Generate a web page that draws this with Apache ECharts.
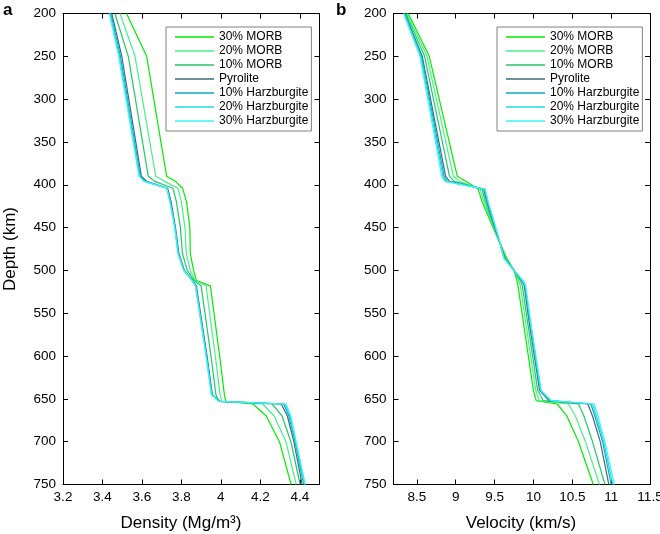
<!DOCTYPE html>
<html>
<head>
<meta charset="utf-8">
<script src="https://cdn.jsdelivr.net/npm/echarts@6/dist/echarts.min.js"></script>
<style>
  html, body { margin: 0; padding: 0; background: #fff; }
  #main { width: 660px; height: 534px; }
</style>
</head>
<body>
<div id="main"></div>
<script>
var names = ["30% MORB", "20% MORB", "10% MORB", "Pyrolite", "10% Harzburgite", "20% Harzburgite", "30% Harzburgite"];
var colors = ["#00ee00", "#48f08a", "#22c868", "#406a78", "#0eaac4", "#22d8ea", "#3ef4fa"];

// panel a: density (Mg/m3) against depth (km)
var depthA = [200, 250, 390, 396, 404, 420, 450, 480, 500, 512, 518, 600, 645, 653, 656, 670, 700, 750];
var morb30A = [3.522, 3.624, 3.725, 3.77, 3.806, 3.826, 3.843, 3.845, 3.862, 3.876, 3.947, 3.994, 4.018, 4.025, 4.163, 4.23, 4.297, 4.356];
var morb20A = [3.489, 3.565, 3.67, 3.715, 3.782, 3.80, 3.818, 3.825, 3.845, 3.872, 3.925, 3.972, 3.996, 4.005, 4.213, 4.27, 4.33, 4.382];
var morb10A = [3.463, 3.531, 3.632, 3.665, 3.757, 3.775, 3.795, 3.805, 3.83, 3.866, 3.90, 3.95, 3.975, 3.99, 4.26, 4.31, 4.355, 4.402];
var pyroA = [3.447, 3.498, 3.597, 3.625, 3.73, 3.748, 3.77, 3.787, 3.815, 3.858, 3.876, 3.93, 3.957, 3.995, 4.306, 4.337, 4.37, 4.412];
var harz10A = [3.442, 3.491, 3.591, 3.617, 3.727, 3.745, 3.768, 3.785, 3.813, 3.856, 3.873, 3.928, 3.955, 3.993, 4.318, 4.345, 4.376, 4.42];
var harz20A = [3.438, 3.486, 3.588, 3.613, 3.726, 3.743, 3.767, 3.783, 3.812, 3.855, 3.872, 3.926, 3.953, 3.991, 4.325, 4.35, 4.379, 4.424];
var harz30A = [3.435, 3.482, 3.585, 3.61, 3.725, 3.742, 3.766, 3.782, 3.811, 3.854, 3.871, 3.925, 3.952, 3.99, 4.33, 4.355, 4.382, 4.428];

// panel b: velocity (km/s) against depth (km)
var depthB = [200, 250, 390, 396, 405, 420, 458, 486, 500, 511, 517, 560, 640, 652, 656, 670, 700, 750];
var morb30B = [8.39, 8.66, 9.02, 9.13, 9.29, 9.34, 9.52, 9.66, 9.75, 9.785, 9.80, 9.87, 10.0, 10.035, 10.305, 10.43, 10.58, 10.77];
var morb20B = [8.375, 8.63, 8.97, 9.05, 9.315, 9.36, 9.525, 9.65, 9.75, 9.805, 9.83, 9.90, 10.03, 10.075, 10.45, 10.54, 10.67, 10.85];
var morb10B = [8.36, 8.60, 8.92, 8.98, 9.34, 9.38, 9.53, 9.64, 9.75, 9.825, 9.855, 9.925, 10.055, 10.125, 10.58, 10.65, 10.76, 10.92];
var pyroB = [8.345, 8.57, 8.87, 8.92, 9.36, 9.40, 9.535, 9.63, 9.75, 9.845, 9.88, 9.945, 10.08, 10.2, 10.70, 10.76, 10.86, 10.97];
var harz10B = [8.34, 8.56, 8.85, 8.89, 9.37, 9.41, 9.537, 9.625, 9.75, 9.85, 9.89, 9.955, 10.09, 10.21, 10.74, 10.79, 10.89, 11.0];
var harz20B = [8.335, 8.55, 8.835, 8.875, 9.375, 9.415, 9.54, 9.622, 9.75, 9.855, 9.895, 9.96, 10.095, 10.22, 10.76, 10.81, 10.905, 11.02];
var harz30B = [8.33, 8.54, 8.82, 8.86, 9.38, 9.42, 9.542, 9.62, 9.75, 9.86, 9.90, 9.965, 10.10, 10.23, 10.785, 10.83, 10.92, 11.04];

var densityTicks = [3.2, 3.4, 3.6, 3.8, 4, 4.2, 4.4];
var velocityTicks = [8.5, 9, 9.5, 10, 10.5, 11, 11.5];

var chartDom = document.getElementById("main");
var myChart = echarts.init(chartDom);
var font = "Liberation Sans, Arial, Helvetica, sans-serif";

function pairs(xs, ds) {
  return xs.map(function (v, i) {
    return [v, ds[i]];
  });
}

function xAx(grid, min, max, ticks, pos) {
  return {
    type: "value", gridIndex: grid, position: pos, min: min, max: max,
    splitLine: { show: false },
    axisLine: { show: true, onZero: false, lineStyle: { color: "#000", width: 1 } },
    axisTick: { show: true, inside: true, length: 5, customValues: ticks, lineStyle: { color: "#000" } },
    axisLabel: { show: pos === "bottom", customValues: ticks, margin: 6, color: "#000", fontSize: 13.5, fontFamily: font }
  };
}

function yAx(grid, pos) {
  return {
    type: "value", gridIndex: grid, position: pos, min: 200, max: 750, interval: 50, inverse: true,
    splitLine: { show: false },
    axisLine: { show: true, onZero: false, lineStyle: { color: "#000", width: 1 } },
    axisTick: { show: true, inside: true, length: 5, lineStyle: { color: "#000" } },
    axisLabel: { show: pos === "left", margin: 7, color: "#000", fontSize: 13.5, fontFamily: font }
  };
}

function legendAt(left) {
  return {
    orient: "vertical", left: left, top: 27,
    data: names, icon: "rect", itemWidth: 39, itemHeight: 1.3, itemGap: 0,
    padding: [3, 3, 3, 9],
    borderColor: "#808080", borderWidth: 1, borderRadius: 0, backgroundColor: "#fff",
    textStyle: { fontSize: 12, lineHeight: 14, color: "#000", fontFamily: font },
    selectedMode: false
  };
}

var valuesA = [morb30A, morb20A, morb10A, pyroA, harz10A, harz20A, harz30A];
var valuesB = [morb30B, morb20B, morb10B, pyroB, harz10B, harz20B, harz30B];
var series = [];
names.forEach(function (n, i) {
  series.push({
    name: n, type: "line", xAxisIndex: 0, yAxisIndex: 0, data: pairs(valuesA[i], depthA),
    symbol: "none", color: colors[i], lineStyle: { width: 1.2, color: colors[i] }
  });
});
names.forEach(function (n, i) {
  series.push({
    name: n, type: "line", xAxisIndex: 2, yAxisIndex: 2, data: pairs(valuesB[i], depthB),
    symbol: "none", color: colors[i], lineStyle: { width: 1.2, color: colors[i] }
  });
});

var option = {
  animation: false,
  backgroundColor: "#fff",
  grid: [
    { left: 63, top: 13.5, width: 256.5, height: 471, outerBoundsMode: "none" },
    { left: 393.5, top: 13.5, width: 256.5, height: 471, outerBoundsMode: "none" }
  ],
  xAxis: [
    xAx(0, 3.2, 4.5, densityTicks, "bottom"),
    xAx(0, 3.2, 4.5, densityTicks, "top"),
    xAx(1, 8.2, 11.5, velocityTicks, "bottom"),
    xAx(1, 8.2, 11.5, velocityTicks, "top")
  ],
  yAxis: [yAx(0, "left"), yAx(0, "right"), yAx(1, "left"), yAx(1, "right")],
  legend: [legendAt(166), legendAt(497)],
  graphic: [
    { type: "text", x: 3, y: 2, style: { text: "a", font: "bold 17px " + font, fill: "#000" } },
    { type: "text", x: 336, y: 2, style: { text: "b", font: "bold 17px " + font, fill: "#000" } },
    { type: "text", x: 181, y: 523, style: { text: "Density (Mg/m³)", font: "17px " + font, fill: "#000", textAlign: "center", textVerticalAlign: "middle" } },
    { type: "text", x: 521, y: 523, style: { text: "Velocity (km/s)", font: "17px " + font, fill: "#000", textAlign: "center", textVerticalAlign: "middle" } },
    { type: "text", x: 10, y: 249, rotation: Math.PI / 2, style: { text: "Depth (km)", font: "17px " + font, fill: "#000", textAlign: "center", textVerticalAlign: "middle" } }
  ],
  series: series
};

option && myChart.setOption(option);
</script>
</body>
</html>
